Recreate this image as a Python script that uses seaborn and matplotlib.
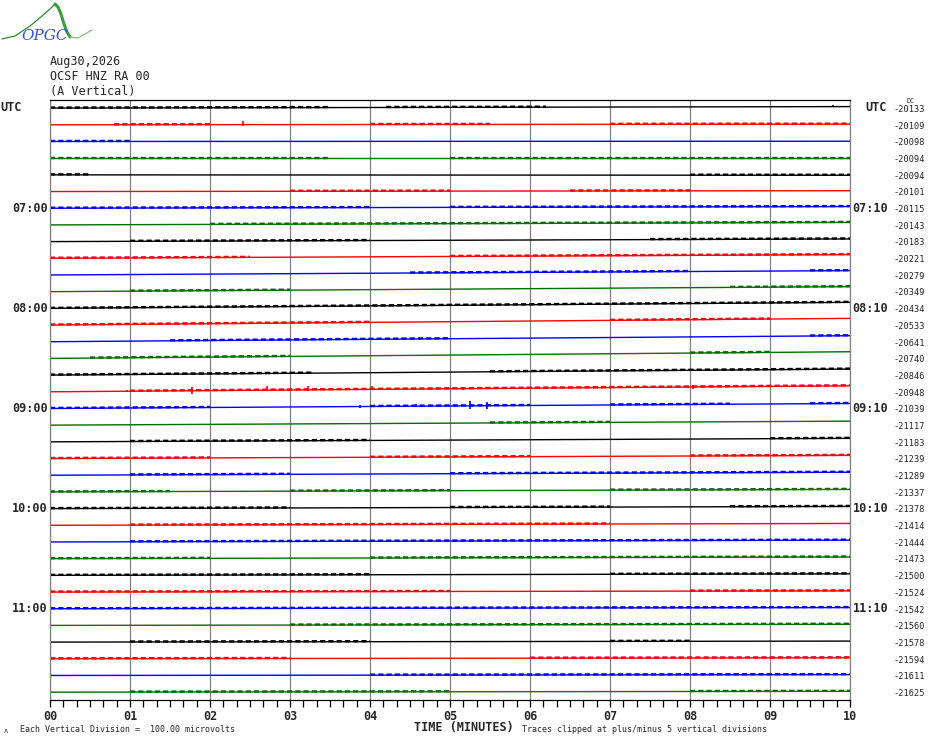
import numpy as np
import pandas as pd
import seaborn as sns
import matplotlib.pyplot as plt

n_rows = 36
minutes = list(range(11))
left_hours = ["07:00", "08:00", "09:00", "10:00", "11:00"]
right_hours = ["07:10", "08:10", "09:10", "10:10", "11:10"]
hour_rows = [6, 12, 18, 24, 30]
dc_values = [-20133, -20109, -20098, -20094, -20094, -20101, -20115, -20143,
             -20183, -20221, -20279, -20349, -20434, -20533, -20641, -20740,
             -20846, -20948, -21039, -21117, -21183, -21239, -21289, -21337,
             -21378, -21414, -21444, -21473, -21500, -21524, -21542, -21560,
             -21578, -21594, -21611, -21625]
# upward drift of each trace over its 10 minutes, in vertical divisions
drift = [0.09, 0.04, 0.015, 0.0, -0.025, 0.05, 0.10, 0.15,
         0.16, 0.22, 0.26, 0.30, 0.36, 0.40, 0.36, 0.40,
         0.36, 0.36, 0.30, 0.24, 0.21, 0.19, 0.18, 0.15,
         0.13, 0.11, 0.11, 0.10, 0.09, 0.07, 0.07, 0.07,
         0.06, 0.06, 0.05, 0.05]
trace_colors = ["#000000", "#ff0000", "#0000ff", "#006f00"]

# stretches (minutes) where the trace shows visible noise
noisy = {
    0: [(0, 3.5), (4.2, 6.2)], 1: [(0.8, 2.0), (4.0, 5.5), (7.0, 10)],
    2: [(0, 1.0)], 3: [(0, 3.5), (5.0, 10)], 4: [(0, 0.5), (8.0, 10)],
    5: [(3.0, 5.0), (6.5, 8.0)], 6: [(0, 4.0), (5.0, 10)], 7: [(2.0, 10)],
    8: [(1.0, 4.0), (7.5, 10)], 9: [(0, 2.5), (5.0, 10)],
    10: [(4.5, 8.0), (9.5, 10)], 11: [(1.0, 3.0), (8.5, 10)],
    12: [(0, 10)], 13: [(0, 4.0), (7.0, 9.0)], 14: [(1.5, 5.0), (9.5, 10)],
    15: [(0.5, 3.0), (8.0, 9.0)], 16: [(0, 3.3), (5.5, 10)],
    17: [(1.0, 10)], 18: [(0, 2.0), (4.0, 6.0), (7.0, 8.5), (9.5, 10)],
    19: [(5.5, 7.0)], 20: [(1.0, 4.0), (9.0, 10)],
    21: [(0, 2.0), (4.0, 6.0), (8.0, 10)], 22: [(1.0, 3.0), (5.0, 10)],
    23: [(0, 1.5), (3.0, 5.0), (7.0, 10)], 24: [(0, 3.0), (5.0, 7.0), (8.5, 10)],
    25: [(1.0, 7.0)], 26: [(1.0, 10)], 27: [(0, 2.0), (4.0, 10)],
    28: [(0, 4.0), (7.0, 10)], 29: [(0, 5.0), (8.0, 10)], 30: [(0, 10)],
    31: [(3.0, 10)], 32: [(1.0, 4.0), (7.0, 8.0)], 33: [(0, 3.0), (6.0, 10)],
    34: [(4.0, 10)], 35: [(1.0, 5.0), (8.0, 10)],
}

# larger spikes: row, minute, height up / down (divisions)
spike_row = [0, 1, 17, 17, 17, 17, 17, 17, 17, 17, 18, 18, 18, 18]
spike_min = [9.79, 2.41, 0.96, 1.77, 2.71, 3.23, 4.03, 5.16, 8.04, 8.77, 3.88, 4.58, 5.25, 5.46]
spike_up = [0.12, 0.24, 0.08, 0.22, 0.26, 0.24, 0.18, 0.12, 0.14, 0.10, 0.08, 0.12, 0.28, 0.24]
spike_down = [0.0, 0.06, 0.06, 0.18, 0.06, 0.04, 0.06, 0.06, 0.12, 0.04, 0.06, 0.04, 0.16, 0.18]

# ---- tables ----
rows = np.arange(n_rows)
names = [f"t{r:02d}" for r in rows]
palette = {names[r]: trace_colors[r % 4] for r in rows}

base = pd.DataFrame({
    "trace": np.repeat(names, 2),
    "minute": np.tile([0, 10], n_rows),
    "level": np.repeat(rows, 2) - np.outer(drift, [0, 1]).ravel(),
})

seg_records = []
for r, segs in noisy.items():
    for k, (a, b) in enumerate(segs):
        for m in (a, b):
            seg_records.append({"trace": names[r], "seg": f"{r}_{k}", "minute": m,
                                "level": r - drift[r] * m / 10 - 0.03})
segs_df = pd.DataFrame(seg_records)

sns.set_style("white")
plt.rcParams["font.family"] = ["DejaVu Sans Mono", "DejaVu Sans"]

fig = plt.figure(figsize=(9.3, 7.44), dpi=100)
ax = fig.add_axes([50 / 930, 44 / 744, 800 / 930, 600 / 744])

sns.lineplot(data=base, x="minute", y="level", hue="trace", palette=palette,
             hue_order=names, estimator=None, legend=False, lw=1.0, ax=ax)
sns.lineplot(data=segs_df, x="minute", y="level", hue="trace", units="seg",
             palette=palette, hue_order=names, estimator=None, legend=False,
             lw=1.7, linestyle=(0, (2.2, 1.3)), ax=ax)

sp_level = np.array([r - drift[r] * m / 10 for r, m in zip(spike_row, spike_min)])
ax.vlines(spike_min, sp_level - np.array(spike_up), sp_level + np.array(spike_down),
          colors=[trace_colors[r % 4] for r in spike_row], lw=1.2)

ax.set_xlim(0, 10)
ax.set_ylim(35.47, -0.485)
ax.set_xlabel("")
ax.set_ylabel("")
ax.set_yticks([])
ax.set_xticks(minutes)
ax.set_xticklabels([f"{m:02d}" for m in minutes], fontweight="bold", fontsize=8.5)
ax.set_xticks(np.arange(0, 10.01, 1 / 6), minor=True)
ax.tick_params(axis="x", which="both", direction="out", length=5, width=0.9,
               color="black", pad=2, bottom=True)
ax.grid(axis="x", which="major", color="#808080", lw=0.9)
ax.set_axisbelow(True)
for side in ("left", "right"):
    ax.spines[side].set_color("#808080")
    ax.spines[side].set_linewidth(0.9)
for side in ("top", "bottom"):
    ax.spines[side].set_color("black")
    ax.spines[side].set_linewidth(0.9)

ytr = ax.get_yaxis_transform()
bold = dict(fontweight="bold", fontsize=8.5, va="center")
ax.text(-0.0625, -0.05, "UTC", ha="left", transform=ytr, **bold)
ax.text(1.01875, -0.05, "UTC", ha="left", transform=ytr, **bold)
for lab_l, lab_r, r in zip(left_hours, right_hours, hour_rows):
    ax.text(-0.003, r, lab_l, ha="right", transform=ytr, **bold)
    ax.text(1.003, r, lab_r, ha="left", transform=ytr, **bold)
for r, dc in zip(rows, dc_values):
    ax.text(1.094, r + 0.08, str(dc), ha="right", va="center", fontsize=6.2,
            transform=ytr)
ax.text(1.076, -0.42, "DC", ha="center", va="center", fontsize=4.8, transform=ytr)

# header
fig.text(50 / 930, 1 - 61 / 744, "Aug30,2026", fontsize=8.5, va="center")
fig.text(50 / 930, 1 - 76 / 744, "OCSF HNZ RA 00", fontsize=8.5, va="center")
fig.text(50 / 930, 1 - 91 / 744, "(A Vertical)", fontsize=8.5, va="center")

# footer
fig.text(20 / 930, 1 - 730 / 744, "Each Vertical Division =  100.00 microvolts",
         fontsize=6, va="center")
fig.text(4 / 930, 1 - 731 / 744, "\u028c", fontsize=5, va="center")
fig.text(414 / 930, 1 - 728 / 744, "TIME (MINUTES)", fontsize=8.5,
         fontweight="bold", va="center")
fig.text(522 / 930, 1 - 730 / 744,
         "Traces clipped at plus/minus 5 vertical divisions", fontsize=6, va="center")

# logo
lax = fig.add_axes([0, 1 - 46 / 744, 95 / 930, 46 / 744])
lax.set_xlim(0, 95)
lax.set_ylim(46, 0)
lax.axis("off")
lax.plot([2, 15, 30, 42, 50, 55], [39, 36, 26, 16, 9, 4], color="#2e8b2e", lw=0.9)
lax.plot([55, 58, 61, 64, 67, 70], [4, 7, 14, 24, 32, 37], color="#3c9a3c", lw=2.2)
lax.plot([70, 78, 92], [37, 38, 30], color="#7fbf7f", lw=0.9)
lax.text(45, 36, "OPGC", color="#3355cc", fontsize=11, style="italic",
         ha="center", va="center", family="DejaVu Serif")

fig.savefig("out.png", dpi=100)
